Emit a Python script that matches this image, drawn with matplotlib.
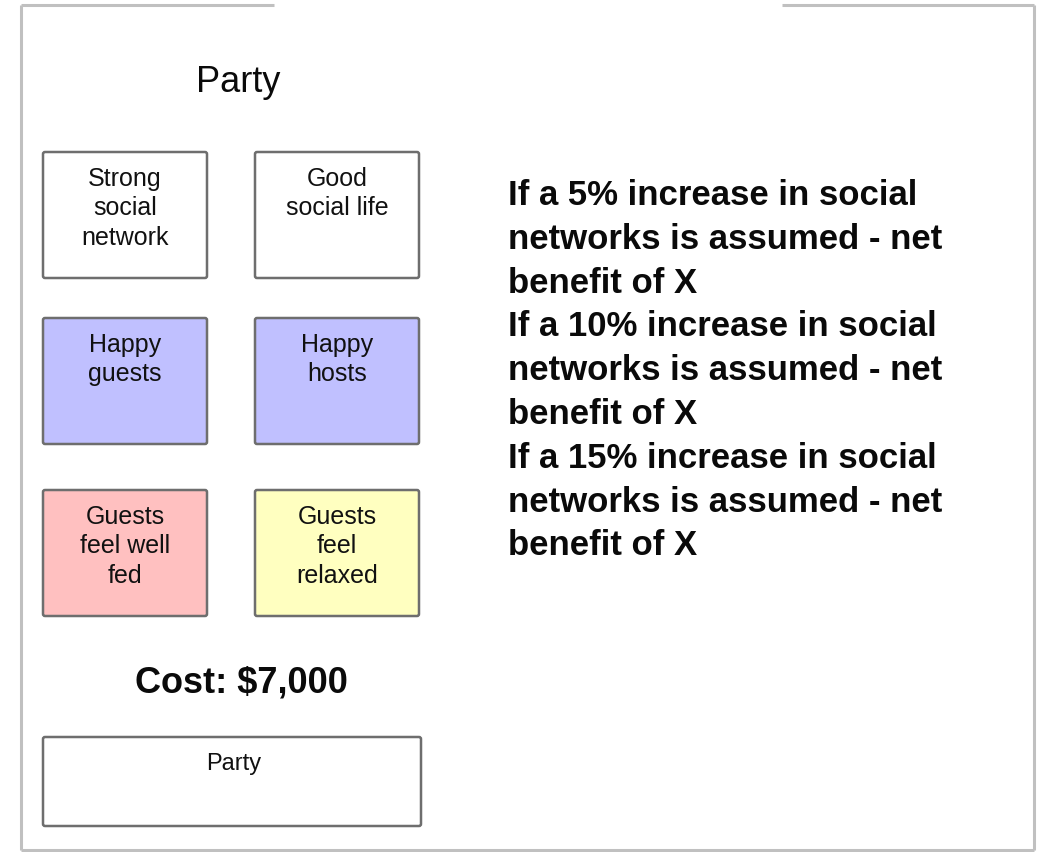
import matplotlib
matplotlib.use("Agg")
import matplotlib.pyplot as plt
from matplotlib.patches import FancyBboxPatch

plt.rcParams['font.family'] = ['Liberation Sans', 'DejaVu Sans']

# content
title = "Party"
box_labels = ["Strong\nsocial\nnetwork", "Good\nsocial life",
              "Happy\nguests", "Happy\nhosts",
              "Guests\nfeel well\nfed", "Guests\nfeel\nrelaxed"]
box_colors = ["white", "white", "#c0c0ff", "#c0c0ff", "#ffc0c0", "#ffffc0"]
cost_label = "Cost: $7,000"
bottom_label = "Party"
benefit_lines = ["If a 5% increase in social", "networks is assumed - net", "benefit of X",
                 "If a 10% increase in social", "networks is assumed - net", "benefit of X",
                 "If a 15% increase in social", "networks is assumed - net", "benefit of X"]

W, H = 1039, 853
fig = plt.figure(figsize=(W / 100, H / 100), dpi=100)
ax = fig.add_axes([0, 0, 1, 1])
ax.set_xlim(0, W)
ax.set_ylim(H, 0)
ax.axis("off")

# frame (top edge has a gap)
frame_kw = dict(color="#c0c0c0", lw=2.2, solid_capstyle="butt")
ax.plot([21, 21], [6, 851], **frame_kw)
ax.plot([1034, 1034], [6, 851], **frame_kw)
ax.plot([21, 1034], [851, 851], **frame_kw)
ax.plot([21, 274], [6, 6], **frame_kw)
ax.plot([782, 1034], [6, 6], **frame_kw)

ax.text(238, 92, title, ha="center", va="baseline", fontsize=26, color="#0a0a0a")

# grid of boxes
col_x = [43, 255]
row_y = [153, 319, 491]
bw, bh = 164, 126
for i, (lab, col) in enumerate(zip(box_labels, box_colors)):
    x0 = col_x[i % 2]
    y0 = row_y[i // 2]
    ax.add_patch(FancyBboxPatch((x0, y0), bw, bh, boxstyle="round,pad=0,rounding_size=2",
                                fc=col, ec="#6e6e6e", lw=1.8))
    ax.text(x0 + bw / 2, y0 + 14, lab, ha="center", va="top", fontsize=18,
            linespacing=1.28, color="#111111")

ax.text(241, 693, cost_label, ha="center", va="baseline", fontsize=26,
        fontweight="semibold", color="#0a0a0a")

ax.add_patch(FancyBboxPatch((43, 738), 378, 89, boxstyle="round,pad=0,rounding_size=2",
                            fc="white", ec="#6e6e6e", lw=1.8))
ax.text(234, 753, bottom_label, ha="center", va="top", fontsize=17, color="#111111")

for i, line in enumerate(benefit_lines):
    ax.text(508, 205 + i * 43.8, line, ha="left", va="baseline", fontsize=25,
            fontweight="bold", color="#0a0a0a")

fig.savefig("out.png", dpi=100)
